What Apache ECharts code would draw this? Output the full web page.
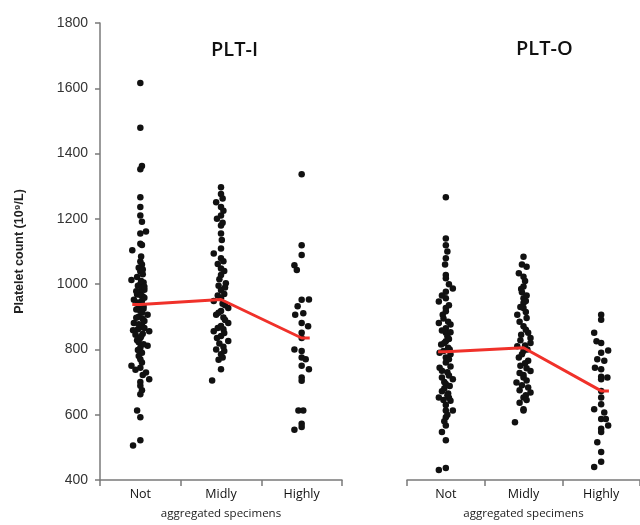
<!DOCTYPE html>
<html>
<head>
<meta charset="utf-8">
<script src="https://cdn.jsdelivr.net/npm/echarts@6/dist/echarts.min.js"></script>
<style>
html,body{margin:0;padding:0;background:#fff}
#chart{width:640px;height:525px}
</style>
</head>
<body>
<div id="chart"></div>
<script>
// 分组
var categories = ['Not', 'Midly', 'Highly'];
var yMin = 400, yMax = 1800, yStep = 200;

// 均值 (红线)
var meansI = [938, 953, 835];
var meansO = [793, 805, 673];

// 点: [横向抖动, 数值]
var pltINot = [
    [0, 1616], [0, 1479], [0.02, 1362], [0, 1352], [0, 1266], [0, 1236], [0, 1210], [0.02, 1191],
    [0.07, 1161], [0, 1155], [0, 1124], [0.02, 1120], [-0.1, 1104], [0, 1069], [0.02, 1060],
    [0, 1039], [0.03, 1030], [-0.11, 1013], [0.04, 1005], [0, 1000], [-0.03, 995], [0.02, 987], [0.05, 983],
    [0, 975], [-0.04, 968], [0.03, 962], [-0.08, 952], [0.02, 948], [0, 937], [-0.02, 930], [0.04, 925],
    [0, 918], [0.09, 906], [-0.02, 900], [0.03, 893], [-0.08, 881], [0.02, 875], [0, 868], [-0.03, 862],
    [0.11, 856], [-0.09, 859], [0.03, 848], [0, 835], [-0.04, 828], [0.09, 811], [0, 805], [0.02, 790],
    [-0.02, 780], [0, 770], [-0.11, 750], [0, 744], [0.07, 729], [0.03, 722], [0.11, 709], [0, 700],
    [0, 689], [0, 663], [-0.04, 613], [0, 592], [0, 522], [-0.09, 506],
    [0.01, 1085], [-0.02, 1050], [0.03, 1045], [-0.04, 1022], [0.01, 1010], [0.05, 992], [-0.05, 978],
    [0.01, 965], [0.05, 958], [-0.03, 944], [0.04, 933], [-0.05, 922], [0.02, 912], [-0.05, 897],
    [0.05, 887], [-0.02, 877], [0.05, 866], [-0.06, 845], [0.01, 840], [-0.02, 822], [0.04, 816],
    [-0.03, 798], [0.02, 760], [-0.06, 738], [0.02, 675]
];
var pltIMid = [
    [0, 1297], [0, 1276], [-0.06, 1251], [0, 1236], [0, 1210], [-0.05, 1200], [0, 1180], [0, 1155],
    [0, 1109], [-0.09, 1094], [0, 1079], [0.03, 1070], [0, 1048], [0.04, 1040], [0, 1028], [0.06, 1003],
    [-0.03, 995], [0, 982], [0.04, 970], [0, 957], [-0.09, 948], [0.02, 940], [0.09, 927], [0, 918],
    [-0.06, 906], [0.03, 898], [0.09, 881], [0, 872], [-0.09, 856], [0.03, 862], [0, 841], [0.09, 826],
    [-0.02, 818], [-0.06, 800], [0.03, 808], [0, 785], [0.02, 775], [0, 739], [-0.11, 705],
    [0.02, 1262], [0.03, 1225], [0.02, 1188], [0.01, 1135], [-0.04, 1062], [-0.02, 1015], [0.05, 990],
    [-0.04, 965], [0.05, 935], [-0.03, 912], [0.05, 890], [-0.04, 866], [0.04, 850], [-0.05, 835],
    [0.04, 795], [-0.03, 768]
];
var pltIHigh = [
    [0, 1337], [0, 1119], [0, 1089], [-0.09, 1058], [-0.06, 1043], [0, 952], [0.09, 953], [-0.05, 932],
    [0.02, 911], [-0.08, 906], [0, 881], [0.08, 871], [0, 851], [0, 835], [-0.09, 800], [0, 795],
    [0, 775], [0.05, 770], [0, 750], [0.09, 739], [0, 714], [0, 704], [-0.04, 613], [0.02, 613],
    [0, 572], [0, 562], [-0.09, 554]
];
var pltONot = [
    [0, 1266], [0, 1140], [0, 1119], [0, 1079], [0, 1028], [0, 1018], [0.09, 987], [0, 977], [0, 957],
    [-0.09, 947], [0, 927], [-0.04, 906], [0, 917], [-0.09, 881], [0.06, 876], [0, 865], [0, 851],
    [0.06, 853], [0.02, 840], [0, 825], [-0.06, 815], [0.03, 805], [-0.08, 790], [0.06, 785], [0, 775],
    [0, 760], [-0.08, 744], [0.06, 748], [0.02, 730], [-0.05, 714], [0.09, 709], [0, 694], [-0.02, 680],
    [0.03, 665], [-0.09, 653], [0.04, 652], [0.06, 643], [0, 630], [0, 613], [0.09, 613], [0, 592],
    [0, 567], [-0.05, 547], [0, 522], [-0.09, 431], [0, 437],
    [0.02, 1100], [-0.01, 1060], [0.04, 1000], [-0.05, 965], [0.04, 935], [-0.03, 895], [0.03, 885],
    [-0.05, 858], [0.04, 832], [-0.02, 820], [0.05, 800], [-0.03, 795], [0.04, 770], [-0.05, 735],
    [0.04, 720], [-0.02, 700], [0.05, 688], [-0.05, 672], [0.02, 660], [-0.03, 645], [0.02, 600], [-0.02, 580]
];
var pltOMid = [
    [0, 1084], [0.04, 1053], [-0.06, 1033], [0, 1023], [0, 993], [-0.02, 975], [0, 957], [0.03, 948],
    [0, 942], [0, 927], [-0.08, 906], [0.04, 896], [0, 871], [0.06, 851], [-0.03, 845], [0.09, 835],
    [0.09, 820], [-0.08, 810], [0.02, 812], [0, 795], [-0.06, 775], [0.06, 765], [-0.04, 750], [0.02, 758],
    [0.09, 734], [0, 722], [0, 714], [-0.09, 699], [0.06, 683], [0.09, 668], [0, 653], [-0.05, 637],
    [0, 617], [0, 613], [-0.11, 577],
    [-0.02, 1060], [0.02, 1010], [-0.03, 985], [0.04, 965], [-0.04, 930], [0.03, 915], [-0.05, 885],
    [0.03, 860], [-0.04, 828], [0.05, 800], [-0.02, 785], [0.04, 742], [-0.05, 728], [0.04, 705],
    [-0.02, 690], [-0.05, 675], [0.03, 660], [0.04, 645]
];
var pltOHigh = [
    [0, 906], [0, 891], [-0.09, 851], [-0.06, 825], [0, 820], [0.09, 797], [0, 790], [-0.05, 770],
    [0.04, 765], [-0.08, 744], [0, 739], [0, 716], [0.08, 714], [0, 709], [0, 673], [0, 653],
    [0, 632], [-0.09, 617], [0.04, 607], [0, 587], [0.06, 587], [0.09, 567], [0, 557], [0, 547],
    [-0.05, 516], [0, 486], [0, 456], [-0.09, 440]
];

var capHalf = 0.1;

function toPoints(groups) {
    var out = [];
    groups.forEach(function (g, i) {
        g.forEach(function (p) { out.push([i + 0.5 + p[0], p[1]]); });
    });
    return out;
}
function meanLine(means) {
    var pts = [[0.5 - capHalf, means[0]]];
    means.forEach(function (m, i) { pts.push([i + 0.5, m]); });
    pts.push([means.length - 0.5 + capHalf, means[means.length - 1]]);
    return pts;
}

var axisGray = '#7a7a7a';
var catAxis = function (gi) {
    return {
        type: 'category', gridIndex: gi, data: categories,
        axisLine: { lineStyle: { color: axisGray, width: 1.5 } },
        axisTick: { show: true, length: 6, lineStyle: { color: axisGray, width: 1.5 } },
        axisLabel: { color: '#111', fontSize: 12.5, margin: 8, fontFamily: 'Open Sans' },
        name: 'aggregated specimens', nameLocation: 'middle', nameGap: 28,
        nameTextStyle: { color: '#222', fontSize: 11.5, fontFamily: 'Open Sans' }
    };
};
var valX = function (gi) {
    return { type: 'value', gridIndex: gi, min: 0, max: 3, show: false };
};

var myChart = echarts.init(document.getElementById('chart'));
var option = {
    animation: false,
    backgroundColor: '#fff',
    title: [
        { text: 'PLT-I', left: 206, top: 35, textStyle: { fontSize: 20, fontWeight: 600, color: '#111', fontFamily: 'Open Sans' } },
        { text: 'PLT-O', left: 511, top: 34, textStyle: { fontSize: 20, fontWeight: 600, color: '#111', fontFamily: 'Open Sans' } }
    ],
    grid: [
        { left: 100, top: 23, width: 242, height: 460 },
        { left: 407, top: 23, width: 240, height: 460 }
    ],
    xAxis: [catAxis(0), valX(0), catAxis(1), valX(1)],
    yAxis: [
        {
            type: 'value', gridIndex: 0, min: yMin, max: yMax, interval: yStep,
            axisLine: { show: true, lineStyle: { color: axisGray, width: 1.5 } },
            axisTick: { show: true, length: 5, lineStyle: { color: axisGray, width: 1.5 } },
            splitLine: { show: false },
            axisLabel: {
                color: '#333', fontSize: 14, margin: 12, fontFamily: 'Liberation Sans',
                formatter: function (v) { return String(v); }
            },
            name: 'Platelet count (10⁹/L)', nameLocation: 'middle', nameGap: 74,
            nameTextStyle: { color: '#222', fontSize: 12.5, fontWeight: 'bold', fontFamily: 'Liberation Sans' }
        },
        { type: 'value', gridIndex: 1, min: yMin, max: yMax, show: false }
    ],
    series: [
        {
            type: 'scatter', xAxisIndex: 1, yAxisIndex: 0, symbolSize: 6.5,
            itemStyle: { color: '#111', opacity: 1 },
            data: toPoints([pltINot, pltIMid, pltIHigh])
        },
        {
            type: 'scatter', xAxisIndex: 3, yAxisIndex: 1, symbolSize: 6.5,
            itemStyle: { color: '#111', opacity: 1 },
            data: toPoints([pltONot, pltOMid, pltOHigh])
        },
        {
            type: 'line', xAxisIndex: 1, yAxisIndex: 0, symbol: 'none', z: 5,
            lineStyle: { color: '#f0312a', width: 3 },
            data: meanLine(meansI)
        },
        {
            type: 'line', xAxisIndex: 3, yAxisIndex: 1, symbol: 'none', z: 5,
            lineStyle: { color: '#f0312a', width: 3 },
            data: meanLine(meansO)
        }
    ]
};
myChart.setOption(option);
</script>
</body>
</html>
